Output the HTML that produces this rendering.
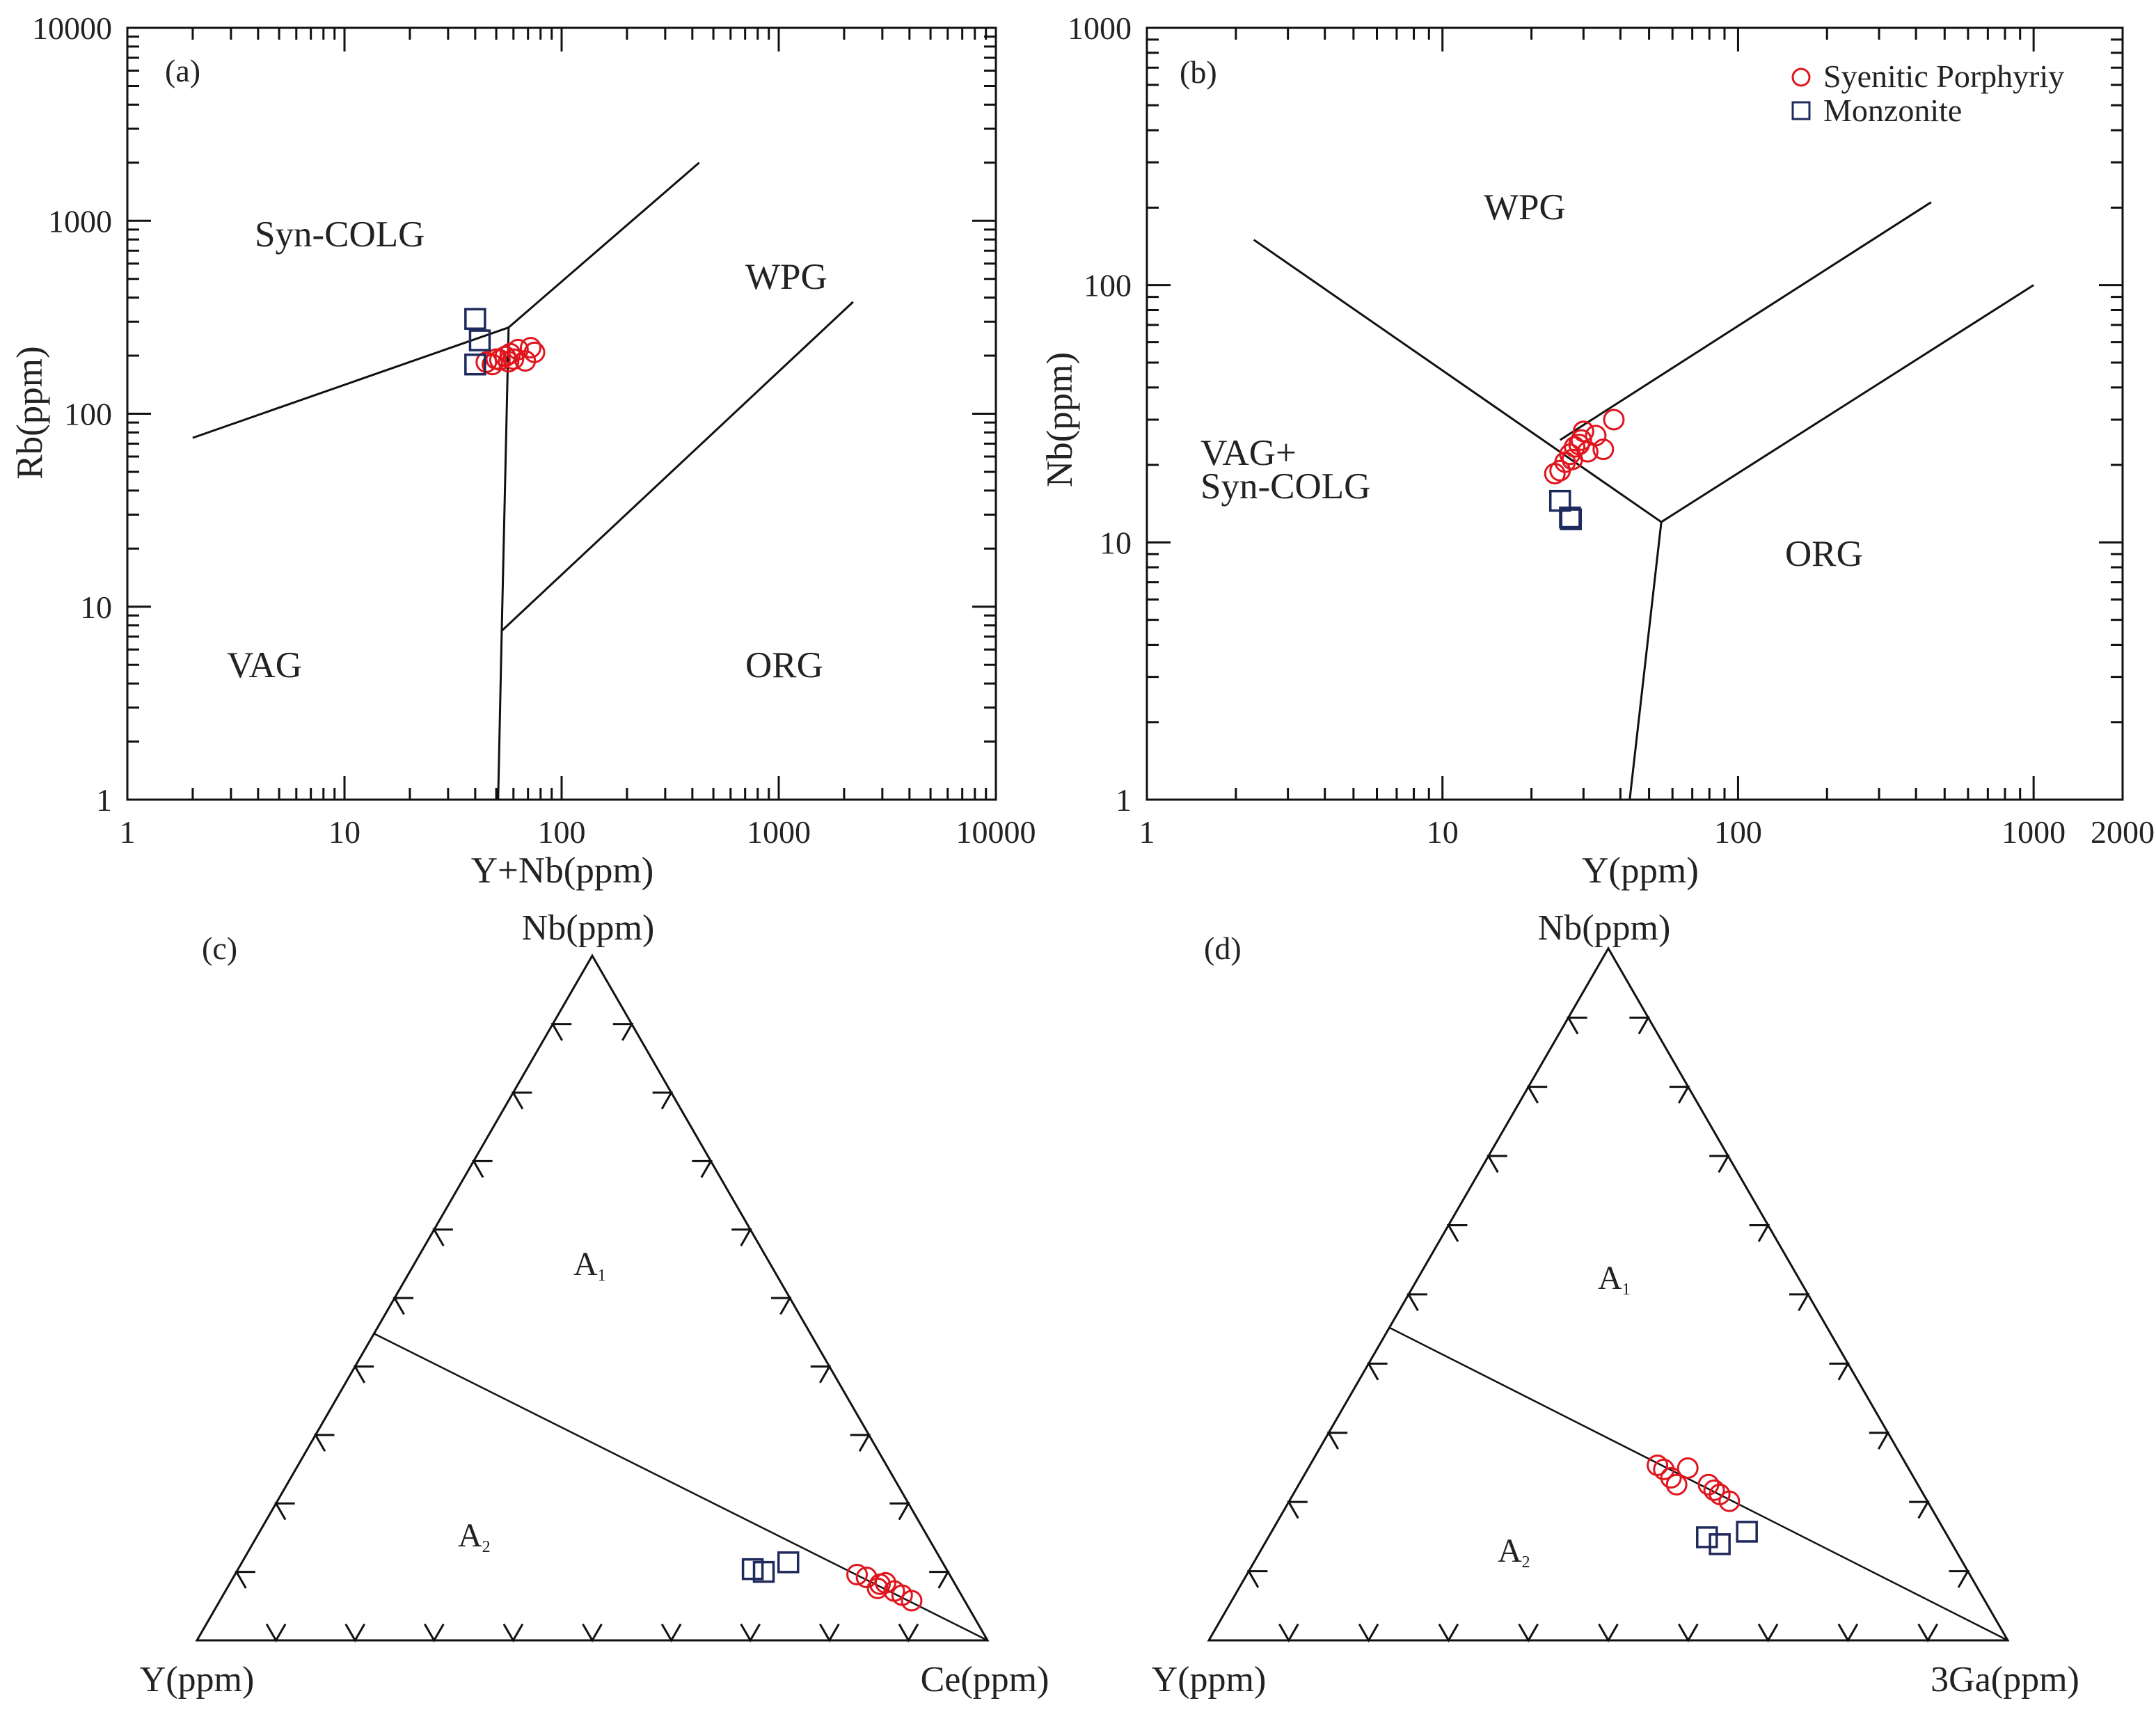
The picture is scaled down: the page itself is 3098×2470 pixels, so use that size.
<!DOCTYPE html>
<html><head><meta charset="utf-8"><style>
html,body{margin:0;padding:0;background:#fff;}
svg{display:block;font-family:"Liberation Serif",serif;}
</style></head><body>
<svg id="fig" width="3098" height="2470" viewBox="0 0 3098 2470" xmlns="http://www.w3.org/2000/svg">
<rect width="3098" height="2470" fill="#fff"/>
</svg>
<script>
// ---- Panel (a) data: Rb vs Y+Nb ----
const aSquaresX = [40, 42, 40];
const aSquaresY = [310, 240, 180];
const aCirclesX = [45, 48, 52, 55, 58, 60, 63, 68, 72, 75, 50, 57];
const aCirclesY = [185, 180, 190, 198, 205, 192, 215, 188, 220, 208, 192, 186];
const aTickLabelsX = ["1", "10", "100", "1000", "10000"];
const aTickLabelsY = ["1", "10", "100", "1000", "10000"];
const aBoundaries = [
  [[2, 75], [57, 280]],
  [[57, 280], [430, 2000]],
  [[57, 280], [53, 7.5], [51, 1]],
  [[53, 7.5], [2200, 380]]
];
// ---- Panel (b) data: Nb vs Y ----
const bSquaresX = [25, 27, 27.2];
const bSquaresY = [14.5, 12.5, 12.3];
const bCirclesX = [24, 25, 26, 27, 28, 29, 30, 31, 33, 35, 38, 27.5, 29.5];
const bCirclesY = [18.5, 19, 20.5, 22, 23.5, 24, 27, 22.5, 26, 23, 30, 21, 25];
const bTickLabelsX = ["1", "10", "100", "1000", "2000"];
const bTickValsX = [1, 10, 100, 1000, 2000];
const bTickLabelsY = ["1", "10", "100", "1000"];
const bBoundaries = [
  [[2.3, 150], [55, 12]],
  [[25, 25], [450, 210]],
  [[55, 12], [1000, 100]],
  [[55, 12], [43, 1]]
];
// ---- Panel (c) ternary Y-Nb-Ce (fractions: nb, ce) ----
const cSquaresNb = [0.104, 0.100, 0.114];
const cSquaresCe = [0.651, 0.667, 0.691];
const cCirclesNb = [0.096, 0.092, 0.076, 0.084, 0.072, 0.066, 0.058, 0.082];
const cCirclesCe = [0.787, 0.801, 0.823, 0.829, 0.846, 0.859, 0.875, 0.823];
const cDivider = [[0.448, 0], [0, 1]]; // [nb, ce]
// ---- Panel (d) ternary Y-Nb-3Ga ----
const dSquaresNb = [0.149, 0.139, 0.157];
const dSquaresGa = [0.549, 0.570, 0.595];
const dCirclesNb = [0.253, 0.247, 0.225, 0.249, 0.235, 0.225, 0.217, 0.211, 0.201];
const dCirclesGa = [0.435, 0.446, 0.473, 0.475, 0.461, 0.513, 0.524, 0.534, 0.551];
const dDivider = [[0.452, 0], [0, 1]];

const NS = "http://www.w3.org/2000/svg";
const svg = document.getElementById('fig');
function mk(tag, attrs, parent) {
  const e = document.createElementNS(NS, tag);
  for (const k in attrs) e.setAttribute(k, attrs[k]);
  (parent || svg).appendChild(e);
  return e;
}
function txt(s, x, y, size, anchor, parent) {
  const t = mk('text', {x: x, y: y, 'font-size': size, 'text-anchor': anchor || 'start', fill: '#222'}, parent);
  t.textContent = s;
  return t;
}
const RED = '#e0161e', NAVY = '#1f2a5c';
function circle(x, y, g) {
  const c = mk('circle', {cx: x, cy: y, r: 14, fill: 'none', stroke: RED, 'stroke-width': 3}, g);
  
  
}
function square(x, y, g) {
  const s = mk('rect', {x: x - 14, y: y - 14, width: 28, height: 28, fill: 'none', stroke: NAVY, 'stroke-width': 3.5}, g);
  
  
}

function logPanel(cfg) {
  const g = mk('g', {});
  
  
  const sx = v => cfg.L + Math.log10(v) / cfg.xMax * (cfg.R - cfg.L);
  const sy = v => cfg.B - Math.log10(v) / cfg.yMax * (cfg.B - cfg.T);
  mk('rect', {x: cfg.L, y: cfg.T, width: cfg.R - cfg.L, height: cfg.B - cfg.T, fill: 'none', stroke: '#111', 'stroke-width': 3}, g);
  const tg = mk('g', {stroke: '#111', 'stroke-width': 3}, g);
  for (let d = 0; d < Math.ceil(cfg.xMax); d++) for (let m = 1; m <= 9; m++) {
    const v = m * Math.pow(10, d); if (Math.log10(v) > cfg.xMax + 1e-9) continue;
    const x = sx(v), len = m === 1 ? 34 : 17;
    mk('line', {x1: x, y1: cfg.B, x2: x, y2: cfg.B - len}, tg);
    mk('line', {x1: x, y1: cfg.T, x2: x, y2: cfg.T + len}, tg);
  }
  for (let d = 0; d < cfg.yMax; d++) for (let m = 1; m <= 9; m++) {
    const v = m * Math.pow(10, d); const y = sy(v), len = m === 1 ? 34 : 17;
    mk('line', {x1: cfg.L, y1: y, x2: cfg.L + len, y2: y}, tg);
    mk('line', {x1: cfg.R, y1: y, x2: cfg.R - len, y2: y}, tg);
  }
  cfg.xLabels.forEach((s, i) => {
    const t = txt(s, sx(cfg.xVals[i]), cfg.B + 62, 46, 'middle', g);
    
    
  });
  cfg.yLabels.forEach((s, i) => {
    const t = txt(s, cfg.L - 22, sy(Math.pow(10, i)) + 16, 46, 'end', g);
    
    
  });
  cfg.bounds.forEach(b => {
    const p = mk('polyline', {points: b.map(q => sx(q[0]) + ',' + sy(q[1])).join(' '), fill: 'none', stroke: '#111', 'stroke-width': 3}, g);
    
    
  });
  cfg.cx.forEach((v, i) => circle(sx(v), sy(cfg.cy[i]), g));
  cfg.sxv.forEach((v, i) => square(sx(v), sy(cfg.syv[i]), g));
  return g;
}

const ga = logPanel({name: 'panel-a-rb-vs-ynb', L: 183, R: 1431, T: 40, B: 1149, xMax: 4, yMax: 4,
  xLabels: aTickLabelsX, xVals: [1, 10, 100, 1000, 10000], yLabels: aTickLabelsY,
  bounds: aBoundaries, cx: aCirclesX, cy: aCirclesY, sxv: aSquaresX, syv: aSquaresY});
let t;
t = txt('(a)', 237, 117, 46, 'start', ga);  
t = txt('Y+Nb(ppm)', 808, 1268, 53, 'middle', ga);  
t = txt('Rb(ppm)', 0, 0, 53, 'middle', ga); t.setAttribute('transform', 'translate(60,593) rotate(-90)');  
t = txt('Syn-COLG', 366, 354, 53, 'start', ga);  
t = txt('WPG', 1071, 415, 53, 'start', ga);  
t = txt('VAG', 326, 973, 53, 'start', ga);  
t = txt('ORG', 1071, 973, 53, 'start', ga);  

const gb = logPanel({name: 'panel-b-nb-vs-y', L: 1648, R: 3050, T: 40, B: 1149, xMax: Math.log10(2000), yMax: 3,
  xLabels: bTickLabelsX, xVals: bTickValsX, yLabels: bTickLabelsY,
  bounds: bBoundaries, cx: bCirclesX, cy: bCirclesY, sxv: bSquaresX, syv: bSquaresY});
t = txt('(b)', 1695, 119, 46, 'start', gb);  
t = txt('Y(ppm)', 2357, 1268, 53, 'middle', gb);  
t = txt('Nb(ppm)', 0, 0, 53, 'middle', gb); t.setAttribute('transform', 'translate(1540,603) rotate(-90)');  
t = txt('WPG', 2132, 315, 53, 'start', gb);  
t = txt('VAG+', 1725, 668, 53, 'start', gb);  
t = txt('Syn-COLG', 1725, 716, 53, 'start', gb);  
t = txt('ORG', 2565, 813, 53, 'start', gb);  
const lg = mk('g', {}, gb);


mk('circle', {cx: 2588, cy: 111, r: 12, fill: 'none', stroke: RED, 'stroke-width': 3}, lg);
t = txt('Syenitic Porphyriy', 2620, 125, 46, 'start', lg);  
mk('rect', {x: 2576, y: 147, width: 24, height: 24, fill: 'none', stroke: NAVY, 'stroke-width': 3}, lg);
t = txt('Monzonite', 2620, 174, 46, 'start', lg);  

function ternary(cfg) {
  const g = mk('g', {});
  
  
  const L = cfg.L, R = cfg.R, B = cfg.B, S = R - L, H = S * Math.sqrt(3) / 2;
  const P = (nb, rt) => [L + (rt + nb / 2) * S, B - nb * H];
  mk('polygon', {points: [P(0, 0), P(0, 1), P(1, 0)].map(p => p.join(',')).join(' '), fill: 'none', stroke: '#111', 'stroke-width': 3}, g);
  const tg = mk('g', {stroke: '#111', 'stroke-width': 3, fill: 'none'}, g);
  const a = 27, c60 = a * 0.5, s60 = a * Math.sqrt(3) / 2;
  for (let i = 1; i <= 9; i++) {
    const f = i / 10;
    let p = P(0, f);
    mk('polyline', {points: `${p[0] - c60},${p[1] - s60} ${p[0]},${p[1]} ${p[0] + c60},${p[1] - s60}`}, tg);
    p = P(f, 0);
    mk('polyline', {points: `${p[0] + a},${p[1]} ${p[0]},${p[1]} ${p[0] + c60},${p[1] + s60}`}, tg);
    p = P(f, 1 - f);
    mk('polyline', {points: `${p[0] - a},${p[1]} ${p[0]},${p[1]} ${p[0] - c60},${p[1] + s60}`}, tg);
  }
  const d0 = P(cfg.div[0][0], cfg.div[0][1]), d1 = P(cfg.div[1][0], cfg.div[1][1]);
  const dl = mk('line', {x1: d0[0], y1: d0[1], x2: d1[0], y2: d1[1], stroke: '#111', 'stroke-width': 2.5}, g);
  
  
  cfg.cnb.forEach((v, i) => { const p = P(v, cfg.crt[i]); circle(p[0], p[1], g); });
  cfg.snb.forEach((v, i) => { const p = P(v, cfg.srt[i]); square(p[0], p[1], g); });
  let tt;
  tt = txt(cfg.label, cfg.labX, 1378, 46, 'start', g);  
  tt = txt('Nb(ppm)', L + S / 2 - 6, 1350, 52, 'middle', g);  
  tt = txt('Y(ppm)', L, 2430, 52, 'middle', g);  
  tt = txt(cfg.right, R - 4, 2430, 52, 'middle', g);  
  tt = txt('A', cfg.a1[0], cfg.a1[1], 48, 'start', g);  
  let sb = mk('tspan', {'font-size': 24, dy: 8}, tt); sb.textContent = '1';
  tt = txt('A', cfg.a2[0], cfg.a2[1], 48, 'start', g);  
  sb = mk('tspan', {'font-size': 24, dy: 8}, tt); sb.textContent = '2';
}
ternary({name: 'panel-c-y-nb-ce', L: 283, R: 1419, B: 2357, div: cDivider,
  cnb: cCirclesNb, crt: cCirclesCe, snb: cSquaresNb, srt: cSquaresCe,
  label: '(c)', labX: 290, right: 'Ce(ppm)', a1: [824, 1832], a2: [658, 2222]});
ternary({name: 'panel-d-y-nb-3ga', L: 1737, R: 2885, B: 2357, div: dDivider,
  cnb: dCirclesNb, crt: dCirclesGa, snb: dSquaresNb, srt: dSquaresGa,
  label: '(d)', labX: 1730, right: '3Ga(ppm)', a1: [2296, 1852], a2: [2152, 2244]});
</script>
</body></html>
